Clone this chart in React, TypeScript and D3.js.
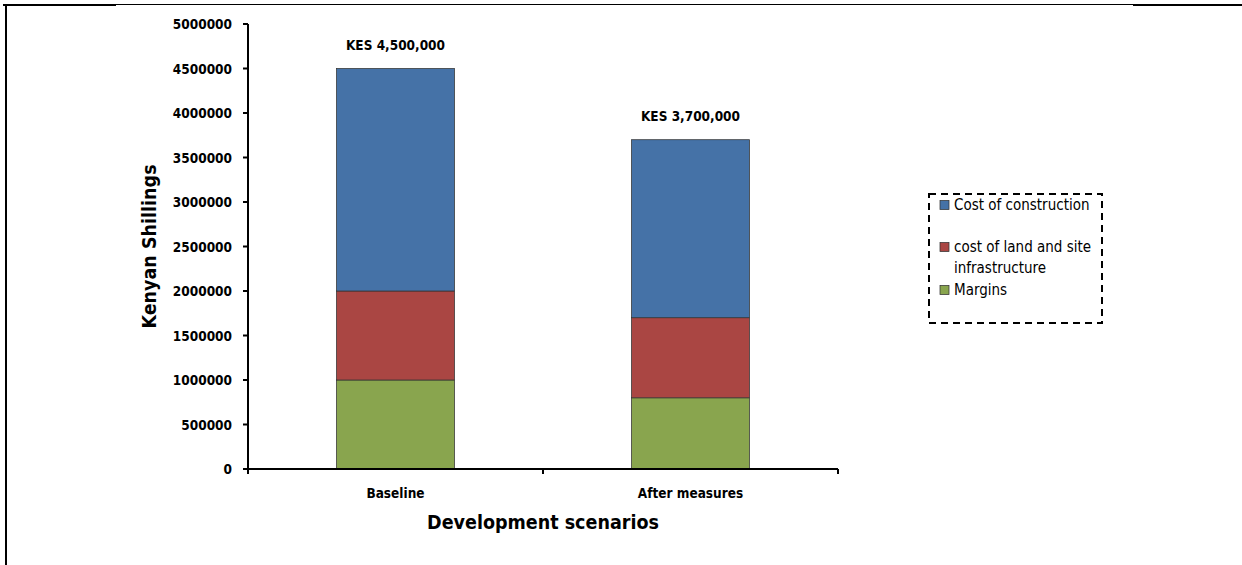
import React from "react";
import * as d3 from "d3";

const categories = ["Baseline", "After measures"];
const seriesNames = ["Margins", "cost of land and site infrastructure", "Cost of construction"];
const margins = [1000000, 800000];
const landCost = [1000000, 900000];
const construction = [2500000, 2000000];
const totalLabels = ["KES 4,500,000", "KES 3,700,000"];
const yTicks = [0, 500000, 1000000, 1500000, 2000000, 2500000, 3000000, 3500000, 4000000, 4500000, 5000000];
const colors = ["#89A54E", "#AA4643", "#4572A7"];

const W = 1242, H = 565;
const x0 = 248, x1 = 838, yTop = 24, yBot = 469;

export default function App() {
  const x = d3.scaleBand<string>().domain(categories).range([x0, x1]).paddingInner(0.6).paddingOuter(0.3);
  const y = d3.scaleLinear().domain([0, 5000000]).range([yBot, yTop]);
  const rows = categories.map((c, i) => ({ cat: c, m: margins[i], l: landCost[i], c2: construction[i] }));
  const stack = d3.stack<any>().keys(["m", "l", "c2"])(rows);
  const cond = "DejaVu Sans Condensed, DejaVu Sans, sans-serif";
  const band = (x1 - x0) / categories.length;
  const legendItems = [
    { color: colors[2], lines: ["Cost of construction"], y: 205 },
    { color: colors[1], lines: ["cost of land and site", "infrastructure"], y: 247 },
    { color: colors[0], lines: ["Margins"], y: 290 },
  ];
  const bt = { fontFamily: cond, fontWeight: "bold" as const, fontStretch: "condensed", fill: "#000" };
  return (
    <svg width={W} height={H} style={{ position: "absolute", left: 0, top: 0, background: "#fff" }}>
      {/* page frame */}
      <line x1={3} x2={116} y1={5} y2={5} stroke="#000" strokeWidth={2} />
      <line x1={116} x2={1133} y1={4.5} y2={4.5} stroke="#000" strokeWidth={1} />
      <line x1={1133} x2={1242} y1={5} y2={5} stroke="#000" strokeWidth={2} />
      <line x1={6} x2={6} y1={4} y2={565} stroke="#000" strokeWidth={2} />

      {/* bars */}
      {stack.map((s, si) => (
        <g key={si}>
          {s.map((d, i) => (
            <rect key={i} x={x(categories[i])} width={x.bandwidth()} y={y(d[1])} height={y(d[0]) - y(d[1])}
              fill={colors[si]} stroke="#333" strokeWidth={0.75} />
          ))}
        </g>
      ))}
      {/* total labels */}
      {categories.map((c, i) => (
        <text key={c} x={x(c)! + x.bandwidth() / 2} y={y(margins[i] + landCost[i] + construction[i]) - 19}
          textAnchor="middle" fontSize={13.5} {...bt}>{totalLabels[i]}</text>
      ))}

      {/* y axis */}
      <line x1={x0} x2={x0} y1={yTop} y2={yBot} stroke="#000" strokeWidth={2} />
      {yTicks.map((t) => (
        <g key={t}>
          <line x1={x0 - 5} x2={x0} y1={y(t)} y2={y(t)} stroke="#000" strokeWidth={2} />
          <text x={232} y={y(t) + 5} textAnchor="end" fontSize={13.5} {...bt}>{t}</text>
        </g>
      ))}
      {/* x axis */}
      <line x1={x0} x2={x1} y1={yBot} y2={yBot} stroke="#000" strokeWidth={2} />
      {d3.range(categories.length + 1).map((k) => (
        <line key={k} x1={x0 + k * band} x2={x0 + k * band} y1={yBot} y2={yBot + 5} stroke="#000" strokeWidth={2} />
      ))}
      {categories.map((c) => (
        <text key={c} x={x(c)! + x.bandwidth() / 2} y={498} textAnchor="middle" fontSize={13.5} {...bt}>{c}</text>
      ))}
      <text x={(x0 + x1) / 2} y={529} textAnchor="middle" fontSize={19.5} {...bt}>Development scenarios</text>
      <text transform={`translate(156,${(yTop + yBot) / 2}) rotate(-90)`} textAnchor="middle" fontSize={19.5} {...bt}>Kenyan Shillings</text>

      {/* legend */}
      <rect x={929} y={194} width={173} height={129} fill="none" stroke="#000" strokeWidth={2} strokeDasharray="7,5" />
      {legendItems.map((it) => (
        <g key={it.lines[0]}>
          <rect x={940} y={it.y - 4.5} width={9} height={9} fill={it.color} stroke="#333" strokeWidth={0.75} />
          {it.lines.map((ln, li) => (
            <text key={ln} x={954} y={it.y + 5 + li * 21} fontFamily={cond} fontStretch="condensed" fontSize={15} fill="#000">{ln}</text>
          ))}
        </g>
      ))}
    </svg>
  );
}
